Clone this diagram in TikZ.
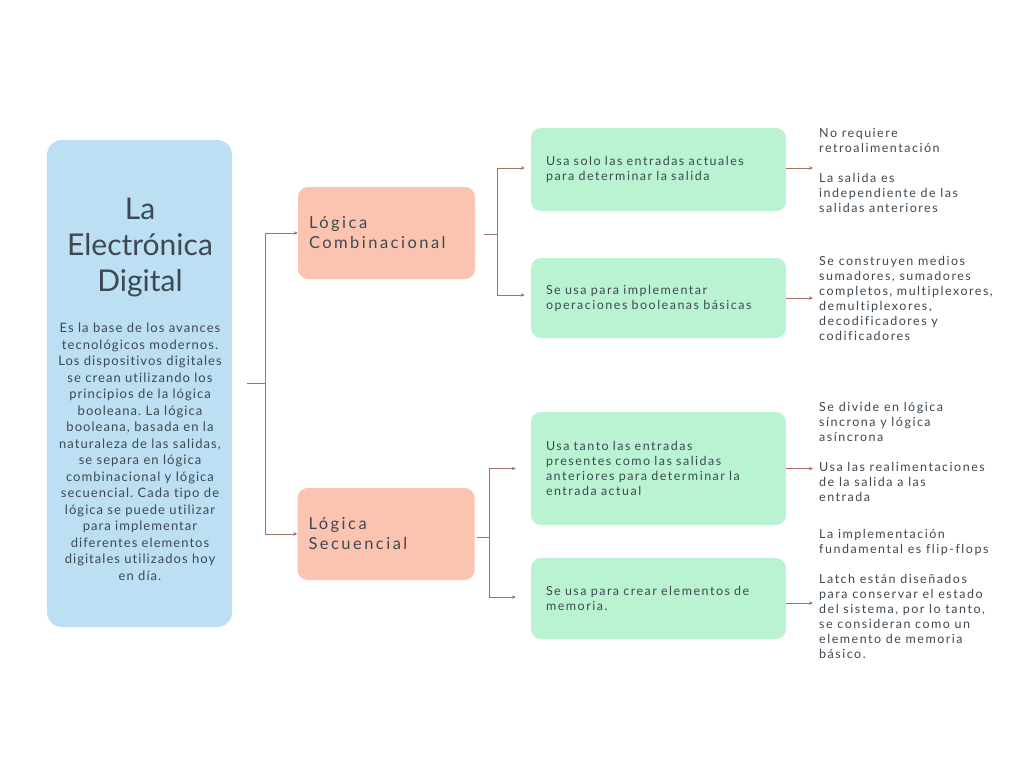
\documentclass[tikz,border=0pt]{standalone}
\usepackage{fontspec}
\setmainfont[Ligatures={NoCommon}]{Lato}
\newfontfamily\trk[LetterSpace=12,Ligatures={NoCommon}]{Lato}
\newfontfamily\trko[LetterSpace=15,Ligatures={NoCommon}]{Lato}
\newfontfamily\lit[LetterSpace=8,Ligatures={NoCommon}]{Lato}
\frenchspacing
\usetikzlibrary{arrows.meta}
\definecolor{bluebox}{HTML}{BDDFF4}
\definecolor{orangebox}{HTML}{FBC4B1}
\definecolor{greenbox}{HTML}{BAF3D2}
\definecolor{ink}{HTML}{3D4852}
\definecolor{wire}{HTML}{A0726A}
\tikzset{
  box/.style={rounded corners=10pt, inner xsep=0pt, inner ysep=0pt, text=ink},
  orange/.style={box, fill=orangebox, minimum width=177pt, minimum height=92pt, align=left, text width=155pt, inner xsep=11pt, font=\trko\fontsize{16.5}{20}\selectfont},
  green/.style={box, fill=greenbox, minimum width=255pt, align=left, text width=225pt, inner xsep=15pt, font=\trk\fontsize{12.5}{15}\selectfont},
  side/.style={anchor=west, inner sep=0pt, align=left, text=ink, font=\trk\fontsize{12.5}{15}\selectfont},
  arr/.style={draw=wire, line width=0.9pt, -{Stealth[length=4pt,width=3.5pt]}},
  ln/.style={draw=wire, line width=0.9pt}
}
\begin{document}
\begin{tikzpicture}[x=1pt,y=-1pt]
\useasboundingbox[fill=white] (0,0) rectangle (1024,768);
% main box
\node[fill=bluebox, rounded corners=15pt, minimum width=185pt, minimum height=487pt, inner sep=0pt] (main) at (139.5,383.5) {};
\node[text=ink, align=center, font=\fontsize{30}{36}\selectfont, inner sep=0pt] (title) at (140,247.5) {La\\Electrónica\\Digital};
\node[text=ink, align=center, font=\lit\fontsize{13}{16.5}\selectfont, inner sep=0pt] (body) at (140,452) {Es la base de los avances\\tecnológicos modernos.\\Los dispositivos digitales\\se crean utilizando los\\principios de la lógica\\booleana. La lógica\\booleana, basada en la\\naturaleza de las salidas,\\se separa en lógica\\combinacional y lógica\\secuencial. Cada tipo de\\lógica se puede utilizar\\para implementar\\diferentes elementos\\digitales utilizados hoy\\en día.};
% level 2
\node[orange] (LC) at (386.5,233) {Lógica\\Combinacional};
\node[orange] (LS) at (386,534) {Lógica\\Secuencial};
% level 3
\node[green, minimum height=83pt] (G1) at (658.5,169.5) {Usa solo las entradas actuales\\para determinar la salida};
\node[green, minimum height=80pt] (G2) at (658.5,298) {Se usa para implementar\\operaciones booleanas básicas};
\node[green, minimum height=113pt] (G3) at (658.5,468.5) {Usa tanto las entradas\\presentes como las salidas\\anteriores para determinar la\\entrada actual};
\node[green, minimum height=81pt] (G4) at (658.5,598.5) {Se usa para crear elementos de\\memoria.};
% level 4
\node[side] (R1) at (819,170.5) {No requiere\\retroalimentación\\[15pt]La salida es\\independiente de las\\salidas anteriores};
\node[side] (R2) at (819,298) {Se construyen medios\\sumadores, sumadores\\completos, multiplexores,\\demultiplexores,\\decodificadores y\\codificadores};
\node[side] (R3) at (819,452) {Se divide en lógica\\síncrona y lógica\\asíncrona\\[15pt]Usa las realimentaciones\\de la salida a las\\entrada};
\node[side] (R4) at (819,593.5) {La implementación\\fundamental es flip-flops\\[15pt]Latch están diseñados\\para conservar el estado\\del sistema, por lo tanto,\\se consideran como un\\elemento de memoria\\básico.};
% connectors
\coordinate (m0) at ([xshift=15pt]main.east);
\draw[ln] (m0) -- ++(18,0) coordinate (m1);
\draw[arr] (m1) |- (LC.west);
\draw[arr] (m1) |- (LS.west);
\coordinate (c0) at ([xshift=9pt,yshift=-1pt]LC.east);
\draw[ln] (c0) -- ++(13,0) coordinate (c1);
\draw[arr] (c1) |- ([xshift=-6pt,yshift=1.5pt]G1.west);
\draw[arr] (c1) |- ([xshift=-6pt,yshift=3pt]G2.west);
\coordinate (s0) at ([xshift=2pt,yshift=-3pt]LS.east);
\draw[ln] (s0) -- ++(13,0) coordinate (s1);
\draw[arr] (s1) |- ([xshift=-15pt]G3.west);
\draw[arr] (s1) |- ([xshift=-15pt,yshift=1.5pt]G4.west);
\draw[arr, shorten >=6pt] ([yshift=1.5pt]G1.east) -- ([yshift=1.5pt]G1.east -| R1.west);
\draw[arr, shorten >=6pt] (G2.east) -- (G2.east -| R2.west);
\draw[arr, shorten >=6pt] (G3.east) -- (G3.east -| R3.west);
\draw[arr, shorten >=6pt] ([yshift=-4.5pt]G4.east) -- ([yshift=-4.5pt]G4.east -| R4.west);
\end{tikzpicture}
\end{document}
